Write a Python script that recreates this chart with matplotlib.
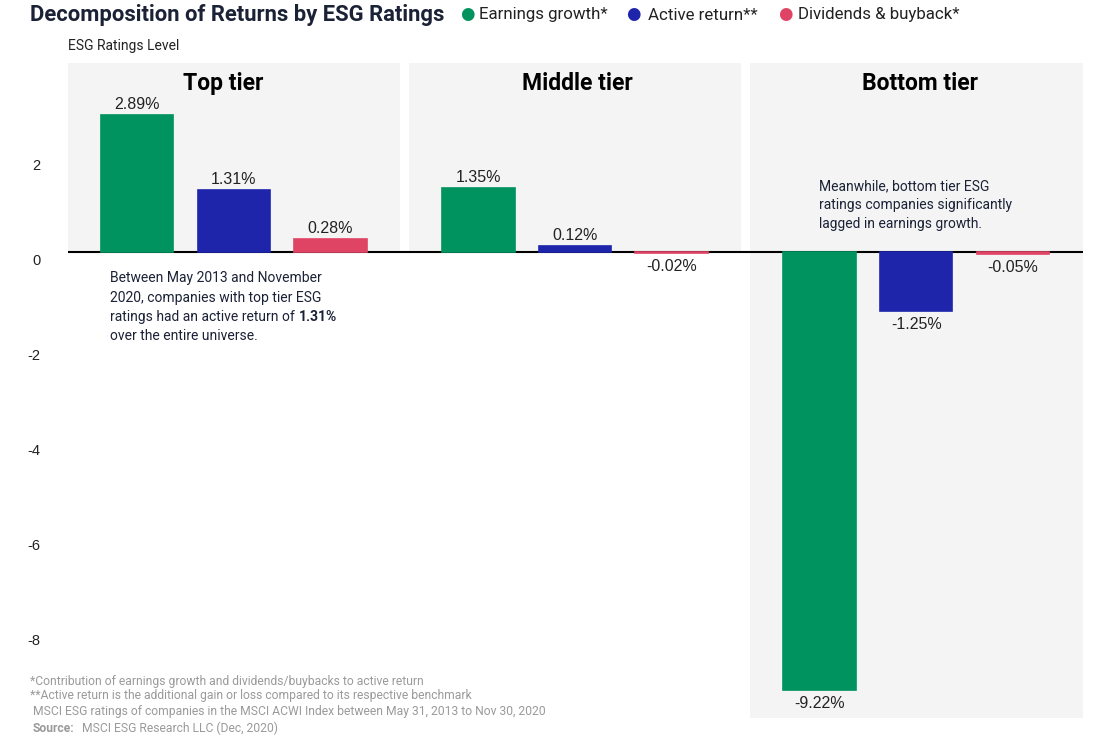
import matplotlib
matplotlib.use("Agg")
import matplotlib.pyplot as plt
import matplotlib.transforms as mtransforms
from matplotlib import font_manager

# data
tiers = ["Top tier", "Middle tier", "Bottom tier"]
series = ["Earnings growth*", "Active return**", "Dividends & buyback*"]
earnings_growth = [2.89, 1.35, -9.22]
active_return = [1.31, 0.12, -1.25]
dividends_buyback = [0.28, -0.02, -0.05]
yticks = [2, 0, -2, -4, -6, -8]

colors = ["#00935F", "#1E25AA", "#E04464"]
panel_gray = "#F4F4F4"
navy = "#1B2236"

W, H = 1104, 746
fig = plt.figure(figsize=(W / 100, H / 100), dpi=100)
plt.rcParams["font.family"] = ["Roboto", "DejaVu Sans"]

# narrow face for the notes if there is one, else plain Roboto a bit smaller
installed = {f.name for f in font_manager.fontManager.ttflist}
if "Liberation Sans Narrow" in installed:
    note_font, note_size = "Liberation Sans Narrow", 11.5
else:
    note_font, note_size = "Roboto", 10


def fx(px):
    return px / W


def fy(py):
    return 1 - py / H


ax = fig.add_axes([fx(68), fy(718), fx(1083) - fx(68), fy(63) - fy(718)])
ymin, ymax = -9.81, 3.98
ax.set_ylim(ymin, ymax)
ax.set_xlim(-0.715, 9.785)

group_step = 3.53
bar_w = 0.75
panel_bottoms = [0, 0, ymin]
title_shift = [-0.11, 0.02, 0.04]

values = [earnings_growth, active_return, dividends_buyback]
for g, tier in enumerate(tiers):
    base = g * group_step
    # grey panel behind each tier
    pb = panel_bottoms[g]
    ax.bar(base + 1, ymax - pb, bottom=pb, width=3.44, color=panel_gray, zorder=0)
    ax.text(base + 1 + title_shift[g], 3.55, tier, ha="center", va="center",
            fontsize=16.5, fontweight="bold", color="black")
    for s in range(3):
        v = values[s][g]
        x = base + s
        ax.bar(x, v, width=bar_w, color=colors[s], edgecolor=colors[s],
               linewidth=1.2, zorder=4)
        if v >= 0:
            ax.text(x, v + 0.06, f"{v:.2f}%", ha="center", va="bottom",
                    fontsize=11.5, family="Liberation Sans", color="#222222")
        else:
            ax.text(x, v - 0.12, f"{v:.2f}%", ha="center", va="top",
                    fontsize=11.5, family="Liberation Sans", color="#222222")

ax.axhline(0, color="black", lw=1.5, zorder=3)

ax.set_xticks([])
ax.set_yticks(yticks)
ax.set_yticklabels([str(t) for t in yticks], fontsize=10.5, color="#222222",
                   family="Liberation Sans")
ax.tick_params(axis="y", length=0, pad=20)
shift = mtransforms.ScaledTranslation(0, -7 / 100, fig.dpi_scale_trans)
for lab in ax.get_yticklabels():
    lab.set_transform(lab.get_transform() + shift)
for sp in ax.spines.values():
    sp.set_visible(False)

# title and inline legend
fig.text(fx(30), fy(15), "Decomposition of Returns by ESG Ratings", fontsize=15.8,
         fontweight="bold", color=navy, ha="left", va="center")
dot_x = [467, 633, 785]
text_x = [479, 648, 798]
for i, name in enumerate(series):
    fig.text(fx(dot_x[i]), fy(14), "\u25CF", fontsize=12, color=colors[i],
             ha="center", va="center", family="DejaVu Sans")
    fig.text(fx(text_x[i]), fy(15), name, fontsize=12.2, color="#222222",
             ha="left", va="center")

fig.text(fx(68), fy(46), "ESG Ratings Level", fontsize=10, color="#222222",
         ha="left", va="center")

# annotations
renderer = fig.canvas.get_renderer()
top_lines = ["Between May 2013 and November", "2020, companies with top tier ESG",
             "ratings had an active return of ", "over the entire universe."]
ys = [278, 298, 317, 336]
for line, yy in zip(top_lines, ys):
    t = fig.text(fx(110), fy(yy), line, fontsize=note_size, family=note_font,
                 color=navy, ha="left", va="center")
    if line.startswith("ratings"):
        bb = t.get_window_extent(renderer)
        fig.text(bb.x1 / W, fy(yy), "1.31%", fontsize=note_size, family=note_font,
                 fontweight="bold", color=navy, ha="left", va="center")

bottom_lines = ["Meanwhile, bottom tier ESG", "ratings companies significantly",
                "lagged in earnings growth."]
for line, yy in zip(bottom_lines, [186, 205, 224]):
    fig.text(fx(819), fy(yy), line, fontsize=note_size, family=note_font,
             color=navy, ha="left", va="center")

# footnotes
foot_gray = "#9A9A9A"
notes = ["*Contribution of earnings growth and dividends/buybacks to active return",
         "**Active return is the additional gain or loss compared to its respective benchmark",
         " MSCI ESG ratings of companies in the MSCI ACWI Index between May 31, 2013 to Nov 30, 2020"]
for note, yy in zip(notes, [682, 695, 711]):
    fig.text(fx(30), fy(yy), note, fontsize=8.75, color=foot_gray, ha="left", va="center")
s = fig.text(fx(33), fy(728), "Source:", fontsize=8.75, fontweight="bold",
             color=foot_gray, ha="left", va="center")
bb = s.get_window_extent(renderer)
fig.text(bb.x1 / W + fx(4), fy(728), " MSCI ESG Research LLC (Dec, 2020)", fontsize=8.75,
         color=foot_gray, ha="left", va="center")

fig.savefig("out.png", dpi=100)
